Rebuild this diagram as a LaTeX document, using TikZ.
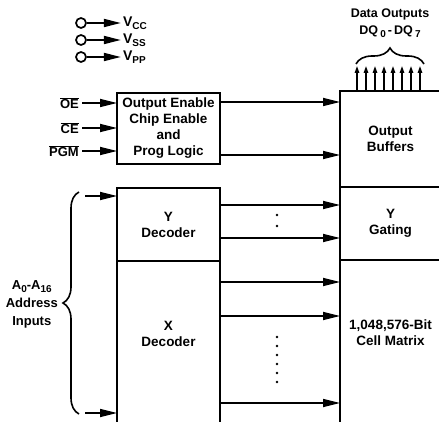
\documentclass[tikz,border=0pt]{standalone}
\usepackage{fontspec}
\setmainfont{Liberation Sans}
\usetikzlibrary{positioning,arrows.meta,decorations.pathreplacing}

\newcommand{\sub}[1]{\raisebox{-3pt}{\fontsize{10}{10}\selectfont #1}}

\tikzset{
  blk/.style={draw, line width=1.7pt, rectangle, inner sep=0pt, outer sep=0pt,
    align=center, font=\bfseries\fontsize{13.5}{16}\selectfont},
  txt/.style={align=center, inner sep=0pt, font=\bfseries\fontsize{13.5}{16}\selectfont},
  lbl/.style={inner sep=3pt, font=\bfseries\fontsize{13}{15}\selectfont},
  vlbl/.style={inner sep=2pt, font=\bfseries\fontsize{14}{15}\selectfont},
  sig/.style={line width=1.7pt, -{Triangle[length=17pt,width=8pt]}},
  dq/.style={line width=1.4pt, -{Triangle[length=7pt,width=4.5pt]}},
  brc/.style={line width=1.6pt, decorate, decoration={brace, amplitude=16pt}},
  dotmark/.style={circle, fill, inner sep=0pt, minimum size=2.6pt},
  pin/.style={circle, draw, line width=1.7pt, inner sep=0pt, minimum size=10pt},
}

\begin{document}
\begin{tikzpicture}[x=1pt, y=-1pt, node distance=34pt]

\useasboundingbox (0,0) rectangle (439,422);

	%% Supply pins
	\node[pin] (c_vcc) at (81,23) {};
	\node[pin] (c_vss) at (81,40) {};
	\node[pin] (c_vpp) at (81,57) {};
	\node[vlbl] (vcc) [right =of c_vcc] {V\sub{CC}};
	\node[vlbl] (vss) [right =of c_vss] {V\sub{SS}};
	\node[vlbl] (vpp) [right =of c_vpp] {V\sub{PP}};
	\draw [sig] (c_vcc) -- (vcc);
	\draw [sig] (c_vss) -- (vss);
	\draw [sig] (c_vpp) -- (vpp);

	%% Left column
	\node[blk, anchor=north west, minimum width=103pt, minimum height=71pt] (oelogic) at (117,93)
		{Output Enable\\Chip Enable\\and\\Prog Logic};
	\node[blk, minimum width=103pt, minimum height=73pt] (ydec) [below = 24pt of oelogic] {Y\\Decoder};
	\node[blk, minimum width=103pt, minimum height=170pt] (xdec) [below = 0pt of ydec] {};
	\node[txt] (xdec_t) at ([yshift=-73pt]xdec.north) {X\\Decoder};

	%% Right column
	\node[blk, anchor=north west, minimum width=101pt, minimum height=96pt] (obuf) at (340,91) {Output\\Buffers};
	\node[blk, minimum width=101pt, minimum height=73pt] (ygate) [below = 0pt of obuf] {Y\\Gating};
	\node[blk, minimum width=101pt, minimum height=170pt] (cell) [below = 0pt of ygate] {};
	\node[txt] (cell_t) at ([yshift=-73pt]cell.north) {1,048,576-Bit\\Cell Matrix};

	%% Control inputs
	\node[lbl, anchor=east] (oe) at (82,103) {$\overline{\mbox{OE}}$};
	\node[lbl, anchor=east] (ce) at (82,128) {$\overline{\mbox{CE}}$};
	\node[lbl, anchor=east] (pgm) at (82,151) {$\overline{\mbox{PGM}}$};
	\draw [sig] (oe) -- (oe -| oelogic.west);
	\draw [sig] (ce) -- (ce -| oelogic.west);
	\draw [sig] (pgm) -- (pgm -| oelogic.west);

	\coordinate (oe_hi) at ([yshift=-9pt]oelogic.north east);
	\coordinate (oe_lo) at ([yshift=9pt]oelogic.south east);
	\draw [sig] (oe_hi) -- (oe_hi -| obuf.west);
	\draw [sig] (oe_lo) -- (oe_lo -| obuf.west);

	%% Address inputs
	\coordinate (a_top) at (85,196);
	\coordinate (a_bot) at (85,413);
	\draw [sig] (a_top) -- (a_top -| ydec.west);
	\draw [sig] (a_bot) -- (a_bot -| xdec.west);
	\draw [brc] (79,414) -- (79,192);
	\node[txt, anchor=east, font=\bfseries\fontsize{13}{18}\selectfont] (addr) at (58,304)
		{A\sub{0}-A\sub{16}\\Address\\Inputs};

	%% Decoder outputs
	\foreach \y in {205,238}
		\draw [sig] (ydec.east |- 0,\y) -- (ygate.west |- 0,\y);
	\foreach \y in {282,316,403}
		\draw [sig] (xdec.east |- 0,\y) -- (cell.west |- 0,\y);
	\foreach \y in {215,226}
		\node[dotmark] (ydot\y) at (277,\y) {};
	\foreach \y in {337,346,...,382}
		\node[dotmark] (xdot\y) at (277,\y) {};

	%% Data outputs
	\foreach \x in {357,366,...,420}
		\draw [dq] (obuf.north -| \x,0) -- ++(0,-25);
	\draw [brc] (356,64) -- (424,64);
	\node[txt, font=\bfseries\fontsize{12.5}{17}\selectfont] (dout) at (390,23)
		{Data Outputs\\DQ\,\sub{0}\,-\,DQ\,\sub{7}};

\end{tikzpicture}
\end{document}
